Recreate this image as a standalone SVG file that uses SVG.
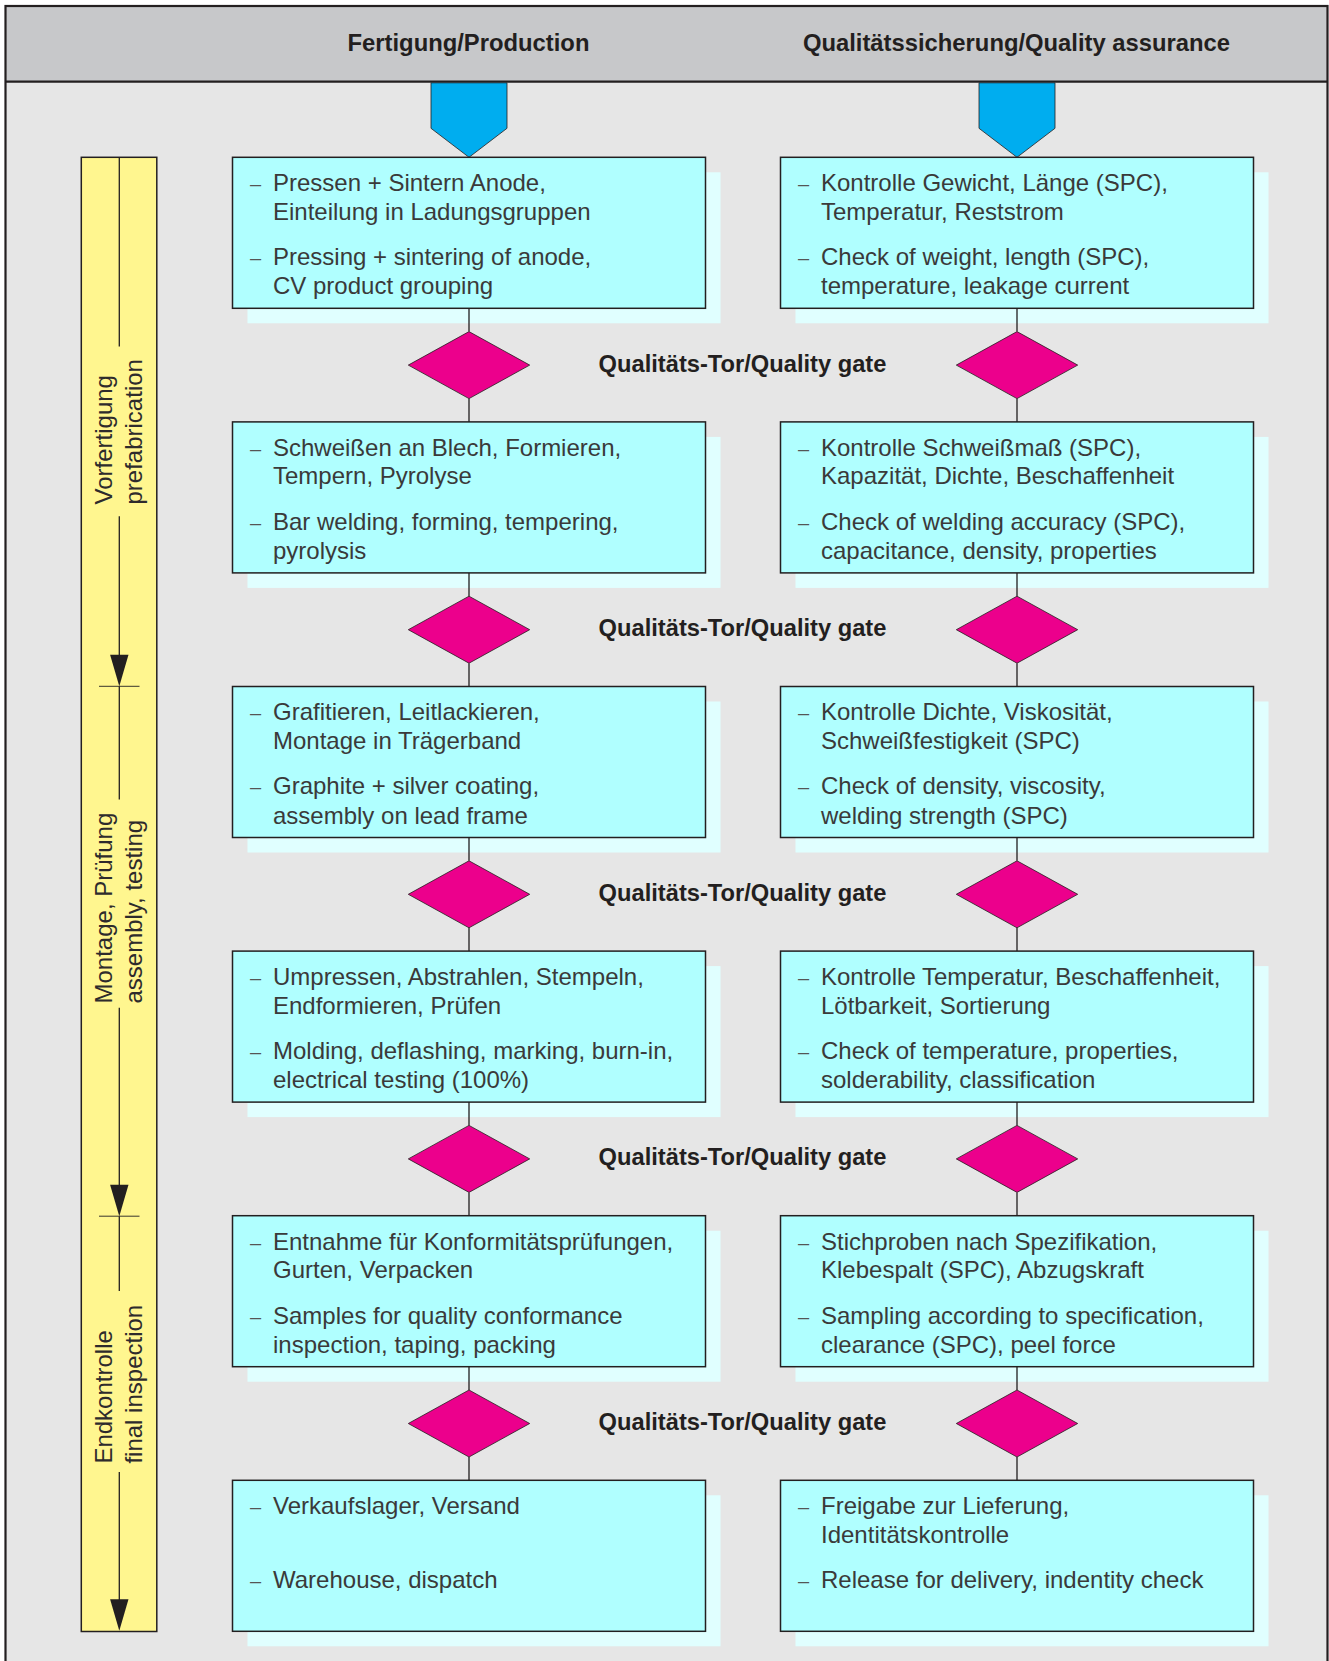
<svg xmlns="http://www.w3.org/2000/svg" width="1329" height="1661" viewBox="0 0 1329 1661">
<style>
.hdr{font-family:"Liberation Sans",Arial,sans-serif;font-weight:bold;font-size:23.8px;fill:#231f20;text-anchor:middle}
.gate{font-family:"Liberation Sans",Arial,sans-serif;font-weight:bold;font-size:23.7px;fill:#231f20;text-anchor:middle}
.t{font-family:"Liberation Sans",Arial,sans-serif;font-size:24px;fill:#3a3a3a}
.d{font-family:"Liberation Sans",Arial,sans-serif;font-size:20px;fill:#555}
.side{font-family:"Liberation Sans",Arial,sans-serif;font-size:24px;fill:#2e2b2c}
.box{fill:#b0ffff;stroke:#231f20;stroke-width:1.5}
.sh{fill:#e0ffff}
.dia{fill:#ec008c;stroke:#231f20;stroke-width:0.8}
.blue{fill:#00adef;stroke:#231f20;stroke-width:0.8}
.con{stroke:#231f20;stroke-width:1.3;fill:none}
.bl{stroke:#231f20;stroke-width:1.3;fill:none}
.tick{stroke:#231f20;stroke-width:0.9;fill:none}
</style>
<defs>
<polygon id="dia" class="dia" points="-60.7,0 0,-33.5 60.7,0 0,33.5"/>
<polygon id="ah" fill="#231f20" points="-9.2,-31.5 9.2,-31.5 0,0"/>
</defs>

<!-- frame -->
<g id="frame">
<rect x="5.5" y="6" width="1322" height="1670" fill="#e6e6e6"/>
<rect x="5.5" y="6" width="1322" height="75.7" fill="#c7c8ca"/>
<line x1="5.5" y1="81.7" x2="1327.5" y2="81.7" stroke="#231f20" stroke-width="2.2"/>
<rect x="5.5" y="6" width="1322" height="1670" fill="none" stroke="#231f20" stroke-width="2.2"/>
<text class="hdr" x="468.5" y="51">Fertigung/Production</text>
<text class="hdr" x="1016.5" y="51">Qualitätssicherung/Quality assurance</text>
</g>

<!-- side phase bar -->
<g id="phasebar">
<rect x="81.3" y="157.3" width="75.5" height="1474.2" fill="#fff68f" stroke="#231f20" stroke-width="1.5"/>
<line class="bl" x1="119.3" y1="157.3" x2="119.3" y2="346.4"/>
<line class="bl" x1="119.3" y1="516.3" x2="119.3" y2="660"/>
<use href="#ah" x="119.3" y="686.3"/>
<line class="tick" x1="99" y1="686.3" x2="139.5" y2="686.3"/>
<line class="bl" x1="119.3" y1="686.3" x2="119.3" y2="799.5"/>
<line class="bl" x1="119.3" y1="1007.8" x2="119.3" y2="1190"/>
<use href="#ah" x="119.3" y="1216.2"/>
<line class="tick" x1="99" y1="1216.2" x2="139.5" y2="1216.2"/>
<line class="bl" x1="119.3" y1="1216.2" x2="119.3" y2="1291"/>
<line class="bl" x1="119.3" y1="1472" x2="119.3" y2="1605"/>
<use href="#ah" x="119.3" y="1630.7"/>
<text class="side" transform="rotate(-90)" x="-504.5" y="112">Vorfertigung</text>
<text class="side" transform="rotate(-90)" x="-504.5" y="141.5">prefabrication</text>
<text class="side" transform="rotate(-90)" x="-1003.5" y="112">Montage, Prüfung</text>
<text class="side" transform="rotate(-90)" x="-1003.5" y="141.5">assembly, testing</text>
<text class="side" transform="rotate(-90)" x="-1463.6" y="112">Endkontrolle</text>
<text class="side" transform="rotate(-90)" x="-1463.6" y="141.5">final inspection</text>
</g>

<!-- entry arrows -->
<g id="entry-production"><polygon class="blue" points="431,82.8 507,82.8 507,128.3 469,157.3 431,128.3"/></g>
<g id="entry-quality"><polygon class="blue" points="979,82.8 1055,82.8 1055,128.3 1017,157.3 979,128.3"/></g>

<!-- Row 0 -->
<g id="p1">
<rect class="sh" x="247.5" y="172.3" width="473" height="151"/>
<rect class="box" x="232.5" y="157.3" width="473" height="151"/>
<text class="d" x="250" y="191.1">–</text><text class="t" x="273" y="191.1">Pressen + Sintern Anode,</text>
<text class="t" x="273" y="219.8">Einteilung in Ladungsgruppen</text>
<text class="d" x="250" y="265.1">–</text><text class="t" x="273" y="265.1">Pressing + sintering of anode,</text>
<text class="t" x="273" y="294.3">CV product grouping</text>
</g>
<g id="q1">
<rect class="sh" x="795.5" y="172.3" width="473" height="151"/>
<rect class="box" x="780.5" y="157.3" width="473" height="151"/>
<text class="d" x="798" y="191.1">–</text><text class="t" x="821" y="191.1">Kontrolle Gewicht, Länge (SPC),</text>
<text class="t" x="821" y="219.8">Temperatur, Reststrom</text>
<text class="d" x="798" y="265.1">–</text><text class="t" x="821" y="265.1">Check of weight, length (SPC),</text>
<text class="t" x="821" y="294.3">temperature, leakage current</text>
</g>

<!-- Row 1 -->
<g id="p2">
<rect class="sh" x="247.5" y="436.9" width="473" height="151"/>
<rect class="box" x="232.5" y="421.9" width="473" height="151"/>
<text class="d" x="250" y="455.7">–</text><text class="t" x="273" y="455.7">Schweißen an Blech, Formieren,</text>
<text class="t" x="273" y="484.4">Tempern, Pyrolyse</text>
<text class="d" x="250" y="529.7">–</text><text class="t" x="273" y="529.7">Bar welding, forming, tempering,</text>
<text class="t" x="273" y="558.9">pyrolysis</text>
</g>
<g id="q2">
<rect class="sh" x="795.5" y="436.9" width="473" height="151"/>
<rect class="box" x="780.5" y="421.9" width="473" height="151"/>
<text class="d" x="798" y="455.7">–</text><text class="t" x="821" y="455.7">Kontrolle Schweißmaß (SPC),</text>
<text class="t" x="821" y="484.4">Kapazität, Dichte, Beschaffenheit</text>
<text class="d" x="798" y="529.7">–</text><text class="t" x="821" y="529.7">Check of welding accuracy (SPC),</text>
<text class="t" x="821" y="558.9">capacitance, density, properties</text>
</g>

<!-- Row 2 -->
<g id="p3">
<rect class="sh" x="247.5" y="701.5" width="473" height="151"/>
<rect class="box" x="232.5" y="686.5" width="473" height="151"/>
<text class="d" x="250" y="720.3">–</text><text class="t" x="273" y="720.3">Grafitieren, Leitlackieren,</text>
<text class="t" x="273" y="749">Montage in Trägerband</text>
<text class="d" x="250" y="794.3">–</text><text class="t" x="273" y="794.3">Graphite + silver coating,</text>
<text class="t" x="273" y="823.5">assembly on lead frame</text>
</g>
<g id="q3">
<rect class="sh" x="795.5" y="701.5" width="473" height="151"/>
<rect class="box" x="780.5" y="686.5" width="473" height="151"/>
<text class="d" x="798" y="720.3">–</text><text class="t" x="821" y="720.3">Kontrolle Dichte, Viskosität,</text>
<text class="t" x="821" y="749">Schweißfestigkeit (SPC)</text>
<text class="d" x="798" y="794.3">–</text><text class="t" x="821" y="794.3">Check of density, viscosity,</text>
<text class="t" x="821" y="823.5">welding strength (SPC)</text>
</g>

<!-- Row 3 -->
<g id="p4">
<rect class="sh" x="247.5" y="966.1" width="473" height="151"/>
<rect class="box" x="232.5" y="951.1" width="473" height="151"/>
<text class="d" x="250" y="984.9">–</text><text class="t" x="273" y="984.9">Umpressen, Abstrahlen, Stempeln,</text>
<text class="t" x="273" y="1013.6">Endformieren, Prüfen</text>
<text class="d" x="250" y="1058.9">–</text><text class="t" x="273" y="1058.9">Molding, deflashing, marking, burn-in,</text>
<text class="t" x="273" y="1088.1">electrical testing (100%)</text>
</g>
<g id="q4">
<rect class="sh" x="795.5" y="966.1" width="473" height="151"/>
<rect class="box" x="780.5" y="951.1" width="473" height="151"/>
<text class="d" x="798" y="984.9">–</text><text class="t" x="821" y="984.9">Kontrolle Temperatur, Beschaffenheit,</text>
<text class="t" x="821" y="1013.6">Lötbarkeit, Sortierung</text>
<text class="d" x="798" y="1058.9">–</text><text class="t" x="821" y="1058.9">Check of temperature, properties,</text>
<text class="t" x="821" y="1088.1">solderability, classification</text>
</g>

<!-- Row 4 -->
<g id="p5">
<rect class="sh" x="247.5" y="1230.7" width="473" height="151"/>
<rect class="box" x="232.5" y="1215.7" width="473" height="151"/>
<text class="d" x="250" y="1249.5">–</text><text class="t" x="273" y="1249.5">Entnahme für Konformitätsprüfungen,</text>
<text class="t" x="273" y="1278.2">Gurten, Verpacken</text>
<text class="d" x="250" y="1323.5">–</text><text class="t" x="273" y="1323.5">Samples for quality conformance</text>
<text class="t" x="273" y="1352.7">inspection, taping, packing</text>
</g>
<g id="q5">
<rect class="sh" x="795.5" y="1230.7" width="473" height="151"/>
<rect class="box" x="780.5" y="1215.7" width="473" height="151"/>
<text class="d" x="798" y="1249.5">–</text><text class="t" x="821" y="1249.5">Stichproben nach Spezifikation,</text>
<text class="t" x="821" y="1278.2">Klebespalt (SPC), Abzugskraft</text>
<text class="d" x="798" y="1323.5">–</text><text class="t" x="821" y="1323.5">Sampling according to specification,</text>
<text class="t" x="821" y="1352.7">clearance (SPC), peel force</text>
</g>

<!-- Row 5 -->
<g id="p6">
<rect class="sh" x="247.5" y="1495.3" width="473" height="151"/>
<rect class="box" x="232.5" y="1480.3" width="473" height="151"/>
<text class="d" x="250" y="1514.1">–</text><text class="t" x="273" y="1514.1">Verkaufslager, Versand</text>
<text class="d" x="250" y="1588.1">–</text><text class="t" x="273" y="1588.1">Warehouse, dispatch</text>
</g>
<g id="q6">
<rect class="sh" x="795.5" y="1495.3" width="473" height="151"/>
<rect class="box" x="780.5" y="1480.3" width="473" height="151"/>
<text class="d" x="798" y="1514.1">–</text><text class="t" x="821" y="1514.1">Freigabe zur Lieferung,</text>
<text class="t" x="821" y="1542.8">Identitätskontrolle</text>
<text class="d" x="798" y="1588.1">–</text><text class="t" x="821" y="1588.1">Release for delivery, indentity check</text>
</g>

<!-- connectors -->
<g id="connectors">
<path class="con" d="M469,308.3V331.6M469,398.6V421.9M1017,308.3V331.6M1017,398.6V421.9
M469,572.9V596.2M469,663.2V686.5M1017,572.9V596.2M1017,663.2V686.5
M469,837.5V860.8M469,927.8V951.1M1017,837.5V860.8M1017,927.8V951.1
M469,1102.1V1125.4M469,1192.4V1215.7M1017,1102.1V1125.4M1017,1192.4V1215.7
M469,1366.7V1390M469,1457V1480.3M1017,1366.7V1390M1017,1457V1480.3"/>
</g>

<!-- quality gates -->
<g id="gate1"><use href="#dia" x="469" y="365.1"/><use href="#dia" x="1017" y="365.1"/><text class="gate" x="742.5" y="371.5">Qualitäts-Tor/Quality gate</text></g>
<g id="gate2"><use href="#dia" x="469" y="629.7"/><use href="#dia" x="1017" y="629.7"/><text class="gate" x="742.5" y="636.1">Qualitäts-Tor/Quality gate</text></g>
<g id="gate3"><use href="#dia" x="469" y="894.3"/><use href="#dia" x="1017" y="894.3"/><text class="gate" x="742.5" y="900.7">Qualitäts-Tor/Quality gate</text></g>
<g id="gate4"><use href="#dia" x="469" y="1158.9"/><use href="#dia" x="1017" y="1158.9"/><text class="gate" x="742.5" y="1165.3">Qualitäts-Tor/Quality gate</text></g>
<g id="gate5"><use href="#dia" x="469" y="1423.5"/><use href="#dia" x="1017" y="1423.5"/><text class="gate" x="742.5" y="1429.9">Qualitäts-Tor/Quality gate</text></g>
</svg>
